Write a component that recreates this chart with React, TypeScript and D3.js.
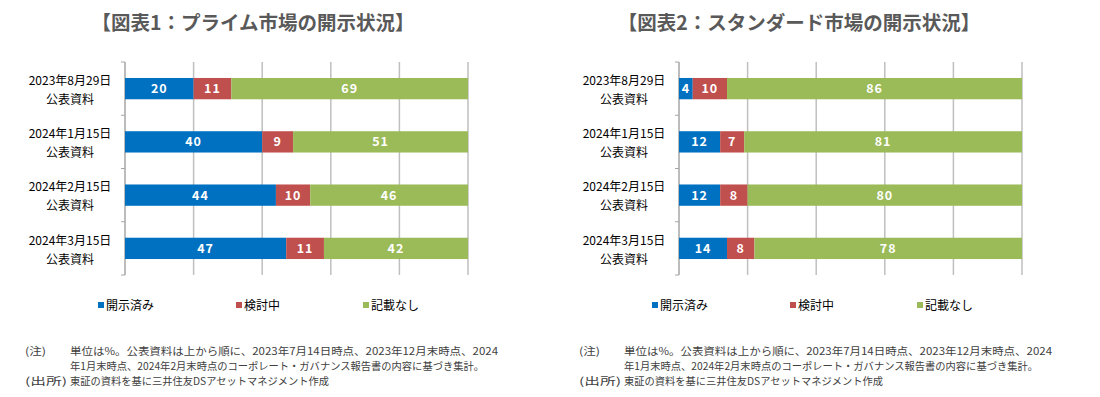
import React from "react";
import * as d3 from "d3";

const categories = ["2023年8月29日", "2024年1月15日", "2024年2月15日", "2024年3月15日"];
const seriesNames = ["開示済み", "検討中", "記載なし"];
const colors = ["#0070C0", "#C0504D", "#9BBB59"];

const primeDisclosed = [20, 40, 44, 47];
const primeReviewing = [11, 9, 10, 11];
const primeNone = [69, 51, 46, 42];

const standardDisclosed = [4, 12, 12, 14];
const standardReviewing = [10, 7, 8, 8];
const standardNone = [86, 81, 80, 78];

const xTicks = [0, 20, 40, 60, 80, 100];

const noteLines = [
  "単位は%。公表資料は上から順に、2023年7月14日時点、2023年12月末時点、2024",
  "年1月末時点、2024年2月末時点のコーポレート・ガバナンス報告書の内容に基づき集計。",
];
const sourceLine = "東証の資料を基に三井住友DSアセットマネジメント作成";

const FONT = "'Noto Sans CJK JP', 'Noto Sans', sans-serif";

interface ChartProps {
  left: number;
  titleX: number;
  title: string;
  series: number[][];
}

const Chart: React.FC<ChartProps> = ({ left, titleX, title, series }) => {
  const right = left + 343;
  const top = 62;
  const bottom = 275;

  const x = d3.scaleLinear().domain([0, 100]).range([left, right]);
  const y = d3.scaleBand<string>().domain(categories).range([top, bottom]).paddingInner(0.6).paddingOuter(0.3);

  const rows = categories.map((c, i) => {
    const vals = series.map((s) => s[i]);
    const cum = d3.cumsum(vals);
    return vals.map((v, k) => ({ cat: c, k, v, x0: cum[k] - v, x1: cum[k] }));
  });

  const bandStep = (bottom - top) / categories.length;
  const legendX = [left - 27, left + 111, left + 238];
  const labelX = left - 55;

  return (
    <g>
      <text x={titleX} y={30} textAnchor="middle" fontSize={19.5} fontWeight="bold" fill="#595959" fontFamily={FONT}>
        {title}
      </text>
      {xTicks.map((t) => (
        <line key={t} x1={x(t)} x2={x(t)} y1={top} y2={bottom} stroke={t === 0 ? "#A6A6A6" : "#BFBFBF"} strokeWidth={1.5} />
      ))}
      {d3.range(categories.length + 1).map((i) => (
        <line key={i} x1={left - 4} x2={left} y1={top + i * bandStep} y2={top + i * bandStep} stroke="#A6A6A6" />
      ))}
      {rows.map((segs, i) => (
        <g key={i}>
          {segs.map((s) => (
            <g key={s.k}>
              <rect x={x(s.x0)} y={y(s.cat)} width={x(s.x1) - x(s.x0)} height={y.bandwidth()} fill={colors[s.k]} />
              <text
                x={(x(s.x0) + x(s.x1)) / 2}
                y={(y(s.cat) ?? 0) + y.bandwidth() / 2 + 4.5}
                textAnchor="middle"
                fontSize={12.5}
                fontWeight="bold"
                fill="#fff"
                letterSpacing={1}
                fontFamily={FONT}
              >
                {s.v}
              </text>
            </g>
          ))}
          <text x={labelX} y={(y(categories[i]) ?? 0) + 7} textAnchor="middle" fontSize={12} fill="#000" fontFamily={FONT}>
            {categories[i]}
          </text>
          <text x={labelX} y={(y(categories[i]) ?? 0) + 26} textAnchor="middle" fontSize={12} fill="#000" fontFamily={FONT}>
            公表資料
          </text>
        </g>
      ))}
      {seriesNames.map((n, k) => (
        <g key={n}>
          <rect x={legendX[k]} y={302} width={6} height={6} fill={colors[k]} />
          <text x={legendX[k] + 8} y={310} fontSize={12} fill="#000" fontFamily={FONT}>
            {n}
          </text>
        </g>
      ))}
      <g fontSize={10.4} fill="#404040" fontFamily={FONT}>
        <text x={left - 100} y={355} textLength={21} lengthAdjust="spacingAndGlyphs">(注)</text>
        <text x={labelX} y={355} textLength={428} lengthAdjust="spacingAndGlyphs">
          {noteLines[0]}
        </text>
        <text x={labelX} y={370} textLength={414} lengthAdjust="spacingAndGlyphs">
          {noteLines[1]}
        </text>
        <text x={left - 100} y={385} textLength={42} lengthAdjust="spacingAndGlyphs">(出所)</text>
        <text x={labelX} y={385} textLength={259} lengthAdjust="spacingAndGlyphs">
          {sourceLine}
        </text>
      </g>
    </g>
  );
};

export default function App() {
  return (
    <svg width={1100} height={397} style={{ position: "absolute", left: 0, top: 0, background: "#fff" }}>
      <Chart left={125} titleX={253} title="【図表1：プライム市場の開示状況】" series={[primeDisclosed, primeReviewing, primeNone]} />
      <Chart
        left={679}
        titleX={799}
        title="【図表2：スタンダード市場の開示状況】"
        series={[standardDisclosed, standardReviewing, standardNone]}
      />
    </svg>
  );
}
